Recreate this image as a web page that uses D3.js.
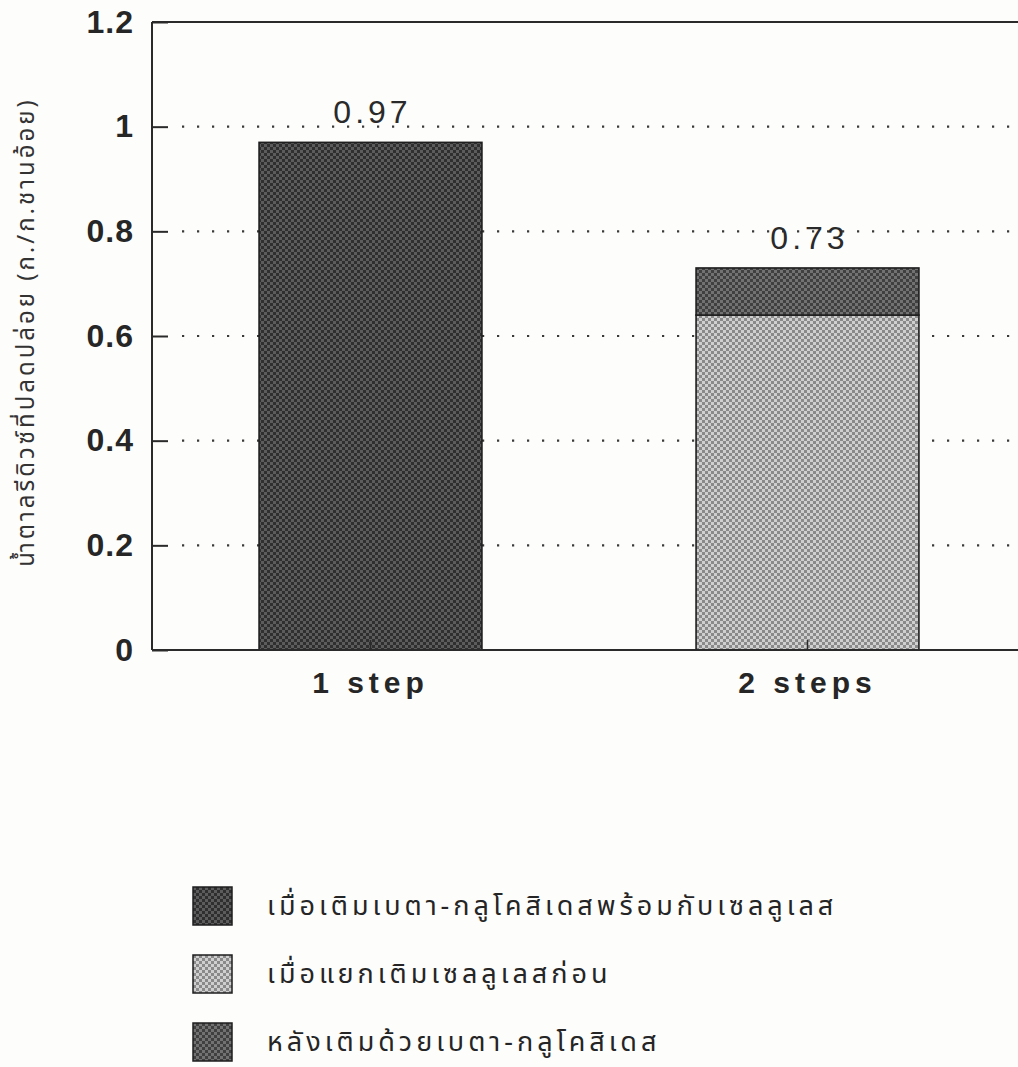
<!DOCTYPE html>
<html>
<head>
<meta charset="utf-8">
<script src="https://cdn.jsdelivr.net/npm/d3@7"></script>
<style>
  html, body { margin: 0; padding: 0; background: #fdfdfc; }
  svg { display: block; }
</style>
</head>
<body>
<svg id="chart" width="1018" height="1067"></svg>
<script>
// Reducing sugar released, by number of enzyme-addition steps
const categories = ["1 step", "2 steps"];
const seriesNames = [
  "เมื่อเติมเบตา-กลูโคสิเดสพร้อมกับเซลลูเลส",
  "เมื่อแยกเติมเซลลูเลสก่อน",
  "หลังเติมด้วยเบตา-กลูโคสิเดส"
];
// one value per category for each series (stacked)
const seriesSimultaneous = [0.97, 0];
const seriesCellulaseFirst = [0, 0.64];
const seriesAfterGlucosidase = [0, 0.09];
const totalLabels = ["0.97", "0.73"];
const yTicks = [0, 0.2, 0.4, 0.6, 0.8, 1, 1.2];
const yTitle = "น้ำตาลรีดิวซ์ที่ปลดปล่อย (ก./ก.ชานอ้อย)";

const svg = d3.select("#chart");
const thaiFont = "'Noto Sans Thai', 'Noto Sans Thai UI', 'Noto Sans', 'DejaVu Sans', sans-serif";
const latinFont = "'Liberation Sans', Arial, sans-serif";

const plot = { left: 152, right: 1026, top: 22, bottom: 650 };

const x = d3.scaleBand().domain(categories).range([plot.left, plot.right]).paddingInner(0.49).paddingOuter(0.245);
const y = d3.scaleLinear().domain([0, 1.2]).range([plot.bottom, plot.top]);

// halftone-like checker fills
const defs = svg.append("defs");
const patterns = [
  { id: "pDark", base: "#2f2f2f", alt: "#5c5c5c" },
  { id: "pLight", base: "#cfcfcf", alt: "#8a8a8a" },
  { id: "pMid", base: "#404040", alt: "#727272" }
];
patterns.forEach(p => {
  const pat = defs.append("pattern").attr("id", p.id).attr("patternUnits", "userSpaceOnUse")
    .attr("width", 6).attr("height", 6);
  pat.append("rect").attr("width", 6).attr("height", 6).attr("fill", p.base);
  pat.append("rect").attr("x", 0).attr("y", 0).attr("width", 3).attr("height", 3).attr("fill", p.alt);
  pat.append("rect").attr("x", 3).attr("y", 3).attr("width", 3).attr("height", 3).attr("fill", p.alt);
});
const fills = ["url(#pDark)", "url(#pLight)", "url(#pMid)"];

// dotted gridlines
svg.append("g").selectAll("line")
  .data(yTicks.filter(t => t > 0 && t < 1.2))
  .join("line")
  .attr("x1", plot.left + 30).attr("x2", plot.right)
  .attr("y1", d => y(d)).attr("y2", d => y(d))
  .attr("stroke", "#3a3a3a").attr("stroke-width", 2.2)
  .attr("stroke-dasharray", "2.2,12.8");

// stacked bars
const stackData = categories.map((c, i) => ({
  cat: c,
  s0: seriesSimultaneous[i],
  s1: seriesCellulaseFirst[i],
  s2: seriesAfterGlucosidase[i]
}));
const stacked = d3.stack().keys(["s0", "s1", "s2"])(stackData);
svg.append("g").selectAll("g")
  .data(stacked)
  .join("g")
  .attr("fill", (d, i) => fills[i])
  .selectAll("rect")
  .data(d => d.filter(v => v[1] - v[0] > 0))
  .join("rect")
  .attr("x", d => x(d.data.cat))
  .attr("width", x.bandwidth())
  .attr("y", d => y(d[1]))
  .attr("height", d => y(d[0]) - y(d[1]))
  .attr("stroke", "#1e1e1e").attr("stroke-width", 1.6);

// value labels above bars
svg.append("g").selectAll("text")
  .data(categories)
  .join("text")
  .attr("x", d => x(d) + x.bandwidth() / 2 + 2)
  .attr("y", (d, i) => y(+totalLabels[i]) - 19)
  .attr("text-anchor", "middle")
  .attr("font-family", latinFont).attr("font-size", 32).attr("letter-spacing", 4)
  .attr("fill", "#2a2a2a")
  .text((d, i) => totalLabels[i]);

// frame: left axis, top and bottom lines
const frame = svg.append("g").attr("stroke", "#2a2a2a").attr("stroke-width", 2);
frame.append("line").attr("x1", plot.left).attr("x2", plot.left).attr("y1", y(1.2)).attr("y2", y(0));
frame.append("line").attr("x1", plot.left).attr("x2", 1018).attr("y1", y(1.2)).attr("y2", y(1.2));
frame.append("line").attr("x1", plot.left).attr("x2", 1018).attr("y1", y(0)).attr("y2", y(0));

// y axis ticks and labels
const yAxis = d3.axisLeft(y).tickValues(yTicks).tickSize(-16).tickPadding(18)
  .tickFormat(d => d3.format("")(d));
const ya = svg.append("g").attr("transform", `translate(${plot.left},0)`).call(yAxis);
ya.select(".domain").remove();
ya.selectAll(".tick line").attr("stroke", "#2a2a2a").attr("stroke-width", 2);
ya.selectAll(".tick text")
  .attr("font-family", latinFont).attr("font-size", 32).attr("font-weight", "bold")
  .attr("letter-spacing", 1).attr("fill", "#262626");

// category axis
const xa = svg.append("g").attr("transform", `translate(0,${plot.bottom})`)
  .call(d3.axisBottom(x).tickSize(-10).tickPadding(22));
xa.select(".domain").remove();
xa.selectAll(".tick line").attr("stroke", "#2a2a2a").attr("stroke-width", 1.5);
xa.selectAll(".tick text")
  .attr("font-family", latinFont).attr("font-size", 30).attr("font-weight", "bold")
  .attr("letter-spacing", 5).attr("fill", "#262626");

// y axis title
svg.append("text")
  .attr("transform", `translate(34,${(plot.top + plot.bottom) / 2 - 4}) rotate(-90)`)
  .attr("text-anchor", "middle")
  .attr("font-family", thaiFont).attr("font-size", 24).attr("letter-spacing", 3)
  .attr("fill", "#333")
  .text(yTitle);

// legend
const legend = svg.append("g").selectAll("g")
  .data(seriesNames)
  .join("g")
  .attr("transform", (d, i) => `translate(193,${887 + i * 68})`);
legend.append("rect").attr("width", 39).attr("height", 38)
  .attr("fill", (d, i) => fills[i]).attr("stroke", "#1e1e1e").attr("stroke-width", 1.5);
legend.append("text")
  .attr("x", 74).attr("y", 28)
  .attr("font-family", thaiFont).attr("font-size", 27).attr("letter-spacing", 4)
  .attr("fill", "#252525")
  .text(d => d);
</script>
</body>
</html>
